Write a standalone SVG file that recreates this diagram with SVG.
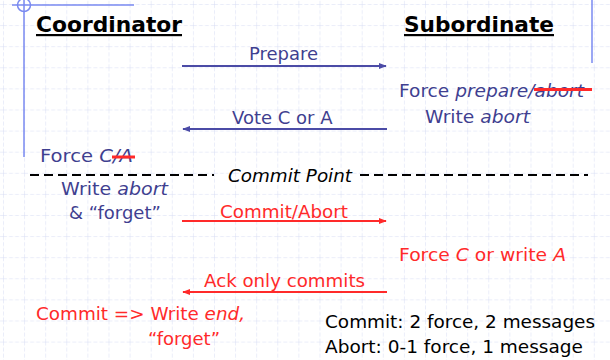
<svg xmlns="http://www.w3.org/2000/svg" width="610" height="360" viewBox="0 0 610 360">
<defs>
<pattern id="grid" x="3" y="4" width="21.1" height="21.1" patternUnits="userSpaceOnUse">
<path d="M0 0 V21.1 M0 0 H21.1" fill="none" stroke="#d6dcf4" stroke-width="1" stroke-dasharray="4 2"/>
</pattern>
<marker id="ablue" viewBox="0 0 10 10" refX="9" refY="5" markerWidth="4" markerHeight="4" orient="auto-start-reverse" markerUnits="strokeWidth">
<path d="M0 1 L10 5 L0 9 Z" fill="#4b4ba6"/>
</marker>
<marker id="ared" viewBox="0 0 10 10" refX="9" refY="5" markerWidth="4" markerHeight="4" orient="auto-start-reverse" markerUnits="strokeWidth">
<path d="M0 1 L10 5 L0 9 Z" fill="#ff2a2a"/>
</marker>
</defs>
<style>
text{font-family:"DejaVu Sans","Liberation Sans",sans-serif;font-size:18px}
.hd{font-weight:bold;font-size:22px;fill:#000;text-decoration:underline}
.bl{fill:#3f3f90}
.rd{fill:#ff2a2a}
.bk{fill:#000}
.it{font-style:italic}
.deco{stroke:#7a8af0;stroke-width:1.5;fill:none}
.strike{stroke:#ff2a2a;stroke-width:3}
.mb{stroke:#4b4ba6;stroke-width:2;fill:none}
.mr{stroke:#ff2a2a;stroke-width:2;fill:none}
.dash{stroke:#000;stroke-width:2;stroke-dasharray:9 5;fill:none}
</style>
<rect width="610" height="360" fill="#fff"/>
<rect width="610" height="360" fill="url(#grid)"/>
<g id="decoration">
<line class="deco" x1="12" y1="5" x2="134" y2="5"/>
<line class="deco" x1="24" y1="0" x2="24" y2="157"/>
<circle class="deco" cx="24" cy="5" r="6.5"/>
<line class="deco" x1="592" y1="0" x2="592" y2="63"/>
</g>
<g id="coordinator"><text class="hd" x="36" y="32" textLength="146" lengthAdjust="spacingAndGlyphs">Coordinator</text></g>
<g id="subordinate"><text class="hd" x="404" y="32" textLength="150" lengthAdjust="spacingAndGlyphs">Subordinate</text></g>
<g id="connectors">
<line class="mb" x1="182" y1="66" x2="386" y2="66" marker-end="url(#ablue)"/>
<line class="mb" x1="387" y1="129" x2="183" y2="129" marker-end="url(#ablue)"/>
<line class="mr" x1="182" y1="221" x2="386" y2="221" marker-end="url(#ared)"/>
<line class="mr" x1="387" y1="292" x2="183" y2="292" marker-end="url(#ared)"/>
</g>
<g id="prepare-label"><text class="bl" x="249" y="60">Prepare</text></g>
<g id="vote-label"><text class="bl" x="232" y="124">Vote C or A</text></g>
<g id="sub-force-prepare">
<text class="bl" x="399" y="97" textLength="185" lengthAdjust="spacingAndGlyphs">Force <tspan class="it">prepare/abort</tspan></text>
<line class="strike" x1="534" y1="89.5" x2="592" y2="89.5"/>
<text class="bl" x="425" y="123" textLength="105" lengthAdjust="spacingAndGlyphs">Write <tspan class="it">abort</tspan></text>
</g>
<g id="coord-force">
<text class="bl" x="40" y="162" textLength="93" lengthAdjust="spacingAndGlyphs">Force <tspan class="it">C/A</tspan></text>
<line class="strike" x1="112" y1="157" x2="135" y2="157"/>
</g>
<g id="commit-point">
<line class="dash" x1="30" y1="175" x2="214" y2="175"/>
<text class="bk it" x="228" y="182" textLength="124" lengthAdjust="spacingAndGlyphs">Commit Point</text>
<line class="dash" x1="360" y1="175" x2="588" y2="175"/>
</g>
<g id="coord-write-abort">
<text class="bl" x="61" y="195" textLength="107" lengthAdjust="spacingAndGlyphs">Write <tspan class="it">abort</tspan></text>
<text class="bl" x="69" y="219">&amp; “forget”</text>
</g>
<g id="commit-abort-label"><text class="rd" x="220" y="218" textLength="128" lengthAdjust="spacingAndGlyphs">Commit/Abort</text></g>
<g id="sub-force-c"><text class="rd" x="399" y="261" textLength="167" lengthAdjust="spacingAndGlyphs">Force <tspan class="it">C</tspan> or write <tspan class="it">A</tspan></text></g>
<g id="ack-label"><text class="rd" x="204" y="287" textLength="161" lengthAdjust="spacingAndGlyphs">Ack only commits</text></g>
<g id="coord-end">
<text class="rd" x="36" y="320" textLength="209" lengthAdjust="spacingAndGlyphs">Commit =&gt; Write <tspan class="it">end,</tspan></text>
<text class="rd" x="148" y="345">“forget”</text>
</g>
<g id="summary">
<text class="bk" x="325" y="328" textLength="270" lengthAdjust="spacingAndGlyphs">Commit: 2 force, 2 messages</text>
<text class="bk" x="325" y="353" textLength="258" lengthAdjust="spacingAndGlyphs">Abort: 0-1 force, 1 message</text>
</g>
</svg>
